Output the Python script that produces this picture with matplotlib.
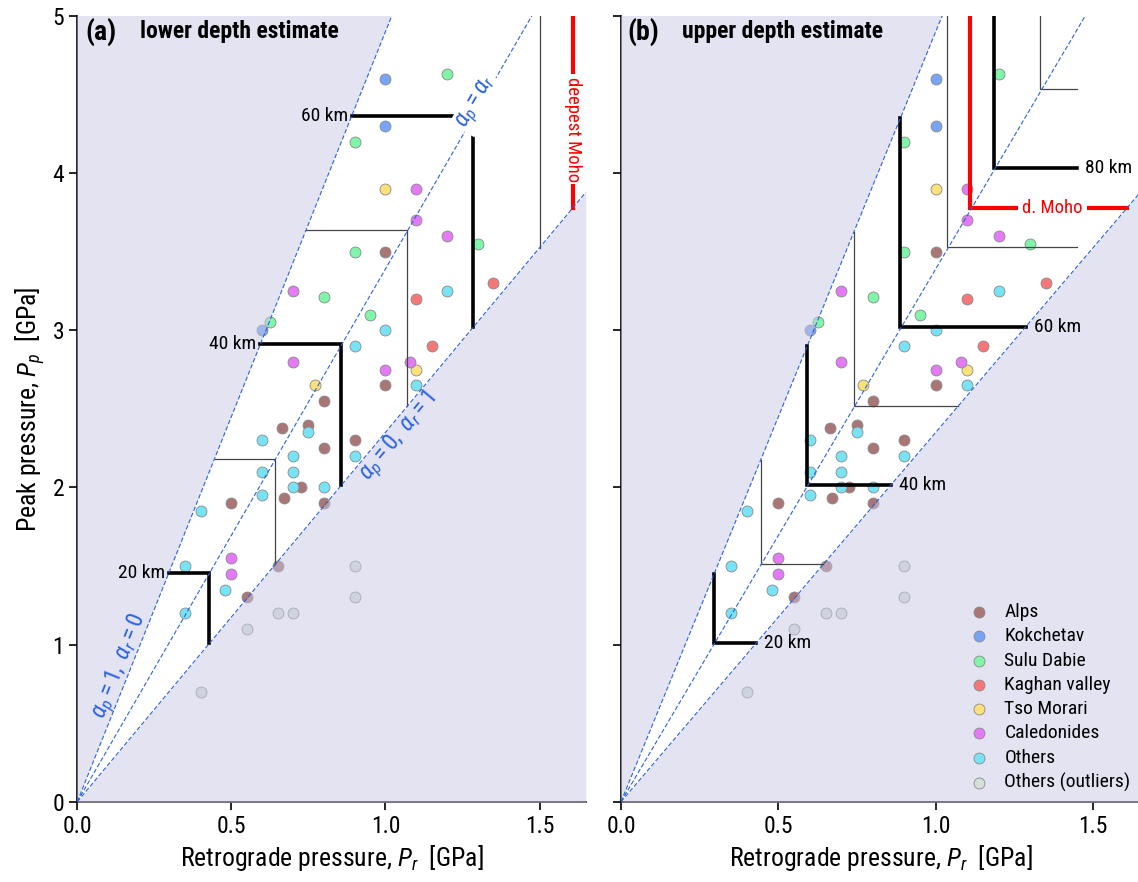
import numpy as np
import matplotlib.pyplot as plt

fam = ['Roboto Condensed', 'Roboto', 'DejaVu Sans']
plt.rcParams['font.family'] = fam
plt.rcParams['mathtext.fontset'] = 'custom'
plt.rcParams['mathtext.rm'] = 'Roboto Condensed'
plt.rcParams['mathtext.it'] = 'Roboto Condensed:italic'
plt.rcParams['mathtext.bf'] = 'Roboto Condensed:bold'

# --- data: (retrograde pressure, peak pressure) in GPa ---
alps_pr = [1.0, 1.0, 0.8, 0.665, 0.75, 0.9, 0.8, 0.725, 0.67, 0.8, 0.5, 0.55, 0.65]
alps_pp = [3.5, 2.65, 2.55, 2.375, 2.4, 2.3, 2.25, 2.0, 1.93, 1.9, 1.9, 1.3, 1.5]
kok_pr = [1.0, 1.0, 0.6]
kok_pp = [4.6, 4.3, 3.0]
sulu_pr = [1.2, 0.9, 1.3, 0.9, 0.8, 0.95, 0.625]
sulu_pp = [4.63, 4.2, 3.55, 3.5, 3.21, 3.1, 3.05]
kag_pr = [1.35, 1.1, 1.15]
kag_pp = [3.3, 3.2, 2.9]
tso_pr = [1.0, 1.1, 0.77]
tso_pp = [3.9, 2.75, 2.65]
cal_pr = [1.1, 1.1, 1.2, 0.7, 0.7, 1.08, 1.0, 0.5, 0.5]
cal_pp = [3.9, 3.7, 3.6, 3.25, 2.8, 2.8, 2.75, 1.55, 1.45]
oth_pr = [1.2, 1.0, 0.9, 1.1, 0.75, 0.6, 0.7, 0.9, 0.6, 0.7, 0.7, 0.8, 0.6, 0.4, 0.35, 0.35, 0.48]
oth_pp = [3.25, 3.0, 2.9, 2.65, 2.35, 2.3, 2.2, 2.2, 2.1, 2.1, 2.0, 2.0, 1.95, 1.85, 1.5, 1.2, 1.35]
out_pr = [0.9, 0.9, 0.65, 0.7, 0.55, 0.4]
out_pp = [1.5, 1.3, 1.2, 1.2, 1.1, 0.7]

groups = ["Alps", "Kokchetav", "Sulu Dabie", "Kaghan valley", "Tso Morari",
          "Caledonides", "Others", "Others (outliers)"]
colors = ["#a97575", "#77a4f5", "#7ff5a8", "#f57777", "#fce07a",
          "#e47af5", "#77e3f5", "#d7dfd9"]
series = [(alps_pr, alps_pp), (kok_pr, kok_pp), (sulu_pr, sulu_pp), (kag_pr, kag_pp),
          (tso_pr, tso_pp), (cal_pr, cal_pp), (oth_pr, oth_pp), (out_pr, out_pp)]

# limits of the Pp/Pr ratio
slope_up = 4.9     # alpha_p = 1, alpha_r = 0
slope_mid = 3.39   # alpha_p = alpha_r
slope_lo = 2.35    # alpha_p = 0, alpha_r = 1

# pressure per km depth [GPa/km]: lower and upper depth estimate
grad_lower = (0.07275, 0.02143)
grad_upper = (0.0504, 0.0148)
depths = [20, 30, 40, 50, 60, 70, 80, 90]
moho = 75

xmax, ymax = 1.65, 5.0
blue = "#2a62e0"
shade = "#c8c8e4"

fig = plt.figure(figsize=(11.38, 8.82), dpi=100)
ax1 = fig.add_axes([0.0679, 0.091, 0.4468, 0.8909])
ax2 = fig.add_axes([0.5457, 0.091, 0.4563, 0.8909])


def base(ax):
    x = np.linspace(0, xmax, 50)
    for i, (pr, pp) in enumerate(series):
        ax.scatter(pr, pp, s=62, color=colors[i], edgecolor="#8a8a8a", lw=0.6,
                   zorder=2, label=groups[i])
    # shaded (impossible) regions drawn over the points
    ax.fill_between(x, slope_up * x, ymax + 1, color=shade, alpha=0.5, lw=0, zorder=3)
    ax.fill_between(x, -1, slope_lo * x, color=shade, alpha=0.5, lw=0, zorder=3)
    for s in (slope_up, slope_mid, slope_lo):
        ax.plot(x, s * x, color=blue, lw=0.8, ls=(0, (4, 2)), zorder=6)
    ax.set_xlim(0, xmax)
    ax.set_ylim(0, ymax)
    ax.set_xticks([0, 0.5, 1.0, 1.5])
    ax.set_xticklabels(["0.0", "0.5", "1.0", "1.5"])
    ax.set_yticks([0, 1, 2, 3, 4, 5])
    ax.tick_params(direction="out", length=6, width=1.2, labelsize=17)
    for sp in ("top", "right"):
        ax.spines[sp].set_visible(False)
    for sp in ("left", "bottom"):
        ax.spines[sp].set_linewidth(1.2)
    ax.set_xlabel("Retrograde pressure, $P_r$  [GPa]", fontsize=18.5)


def depth_lines(ax, grad, mode):
    for z in depths:
        pp, pr = grad[0] * z, grad[1] * z
        thick = z % 20 == 0
        lw = 2.6 if thick else 0.9
        c = "k" if thick else "#444444"
        if mode == "lower":
            x0 = pp / slope_up
            ax.plot([x0, pr, pr], [pp, pp, slope_lo * pr], color=c, lw=lw, zorder=4,
                    solid_joinstyle="miter")
            if thick and pp < ymax:
                ax.text(x0 - 0.012, pp, f"{z} km", ha="right", va="center",
                        fontsize=14, zorder=7)
        else:
            x1 = min(pp / slope_lo, 1.45)
            ax.plot([pr, pr, x1], [slope_up * pr, pp, pp], color=c, lw=lw, zorder=4,
                    solid_joinstyle="miter")
            if thick and pp < ymax:
                ax.text(x1 + 0.025, pp, f"{z} km", ha="left", va="center",
                        fontsize=14, zorder=7)


# (a) lower depth estimate
base(ax1)
depth_lines(ax1, grad_lower, "lower")
pr_m = grad_lower[1] * moho
ax1.plot([pr_m, pr_m], [grad_lower[0] * moho, slope_lo * pr_m], color="red", lw=3, zorder=5)
ax1.text(pr_m, 4.28, "deepest Moho", color="red", fontsize=13.5, rotation=-90,
         ha="center", va="center", zorder=7,
         bbox=dict(facecolor="white", edgecolor="none", pad=1.5))
ax1.text(1.298, 4.446, r"$\alpha_p = \alpha_r$", color=blue, fontsize=17,
         rotation=np.degrees(np.arctan(slope_mid)), transform_rotates_text=True,
         rotation_mode="anchor", ha="center", va="center", zorder=7,
         bbox=dict(facecolor="white", edgecolor="none", pad=2))
ax1.text(1.043, 2.323, r"$\alpha_p = 0,\ \alpha_r = 1$", color=blue, fontsize=17,
         rotation=np.degrees(np.arctan(slope_lo)), transform_rotates_text=True,
         rotation_mode="anchor", ha="center", va="center", zorder=7)
ax1.text(0.139, 0.859, r"$\alpha_p = 1,\ \alpha_r = 0$", color=blue, fontsize=17,
         rotation=np.degrees(np.arctan(slope_up)), transform_rotates_text=True,
         rotation_mode="anchor", ha="center", va="center", zorder=7)
ax1.set_ylabel("Peak pressure, $P_p$  [GPa]", fontsize=18.5)
ax1.text(0.015, 0.98, "(a)", transform=ax1.transAxes, fontsize=20, fontweight="bold",
         va="center", zorder=8)
ax1.text(0.123, 0.98, "lower depth estimate", transform=ax1.transAxes, fontsize=17,
         fontweight="bold", va="center", zorder=8)

# (b) upper depth estimate
base(ax2)
depth_lines(ax2, grad_upper, "upper")
pp_m, pr_m = grad_upper[0] * moho, grad_upper[1] * moho
ax2.plot([pr_m, pr_m, pp_m / slope_lo], [slope_up * pr_m, pp_m, pp_m], color="red",
         lw=3, zorder=5, solid_joinstyle="miter")
ax2.text(1.37, pp_m, "d. Moho", color="red", fontsize=13.5, ha="center", va="center",
         zorder=7, bbox=dict(facecolor="white", edgecolor="none", pad=3))
ax2.set_yticklabels([])
ax2.text(0.012, 0.98, "(b)", transform=ax2.transAxes, fontsize=20, fontweight="bold",
         va="center", zorder=8)
ax2.text(0.1175, 0.98, "upper depth estimate", transform=ax2.transAxes, fontsize=17,
         fontweight="bold", va="center", zorder=8)
leg = ax2.legend(loc="lower right", bbox_to_anchor=(1.0, 0.0), frameon=False,
                 fontsize=14, handletextpad=0.3, labelspacing=0.32, borderaxespad=0.1)
leg.set_zorder(9)

plt.savefig("out.png", dpi=100)
